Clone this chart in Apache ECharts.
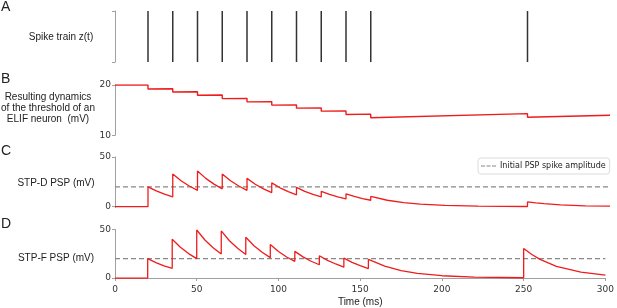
<!DOCTYPE html>
<html>
<head>
<meta charset="utf-8">
<script src="https://cdn.jsdelivr.net/npm/echarts@6/dist/echarts.min.js"></script>
<style>
  html, body { margin: 0; padding: 0; background: #fff; }
  #chart { width: 617px; height: 308px; }
</style>
</head>
<body>
<div id="chart"></div>
<script>
const spikeTimes = [20, 35, 50, 65, 80, 95, 110, 125, 140, 155, 250];

// threshold of the ELIF neuron (mV)
const threshT = [0, 20, 20, 35, 35, 50, 50, 65, 65, 80, 80, 95, 95, 110, 110, 125, 125, 140, 140, 155, 155, 250, 250, 300];
const threshV = [20, 20, 19.2, 19.25, 18.6, 18.65, 17.95, 18.0, 17.3, 17.35, 16.65, 16.7, 16.0, 16.05, 15.4, 15.45, 14.8, 14.85, 14.15, 14.2, 13.5, 14.3, 13.6, 14.0];

// PSP traces (mV)
const pspT = [0, 20, 20, 25, 30, 35, 35, 40, 45, 50, 50, 55, 60, 65, 65, 70, 75, 80, 80, 85, 90, 95, 95, 100, 105, 110,
  110, 115, 120, 125, 125, 130, 135, 140, 140, 145, 150, 155, 155, 165, 175, 185, 200, 220, 250, 250, 255, 260, 270, 285, 300];
const stpD = [0, 0, 20, 15.9, 12.6, 10, 33, 26.1, 20.8, 16.5, 36, 28.5, 22.7, 18, 33, 26.1, 20.8, 16.5, 28.5, 22.6, 18, 14.2,
  24, 19, 15.1, 12, 19.5, 15.4, 12.3, 9.8, 15.5, 12.3, 9.8, 7.8, 13, 10.3, 8.2, 6.5, 10.3, 6.5, 4.1, 2.6, 1.3, 0.5, 0.2,
  4.8, 3.8, 3.0, 1.9, 0.9, 0.5];
const stpF = [0, 0, 20, 15.9, 12.6, 10, 40, 31.7, 25.2, 20, 49.5, 39.2, 31.2, 24.7, 48.5, 38.4, 30.6, 24.2, 42, 33.3, 26.5, 21,
  34.5, 27.3, 21.7, 17.2, 27.5, 21.8, 17.3, 13.7, 23, 18.2, 14.5, 11.2, 20.5, 16.2, 12.9, 9.8, 19.2, 12.2, 7.7, 4.9, 2.4, 1.0, 0.3,
  30.5, 24.2, 19.2, 12.1, 6.1, 3.0];

const initialAmp = 20;

const chart = echarts.init(document.getElementById("chart"));

const RED = "#ee1c1c";
const AXIS = "#a0a0a0";
const LABEL_FONT = "Liberation Sans";
const TICK_FONT = "DejaVu Sans";

const pairs = (xs, ys) => xs.map((x, i) => [x, ys[i]]);

const xAxisBase = (idx, visible) => ({
  gridIndex: idx,
  type: "value",
  min: 0,
  max: 300,
  interval: 50,
  show: visible,
  axisLine: { lineStyle: { color: AXIS, width: 1 } },
  axisTick: { length: 3, lineStyle: { color: AXIS } },
  axisLabel: { color: "#333", fontSize: 9, fontFamily: TICK_FONT, margin: 5 },
  splitLine: { show: false },
});

const yAxisBase = (idx, extra) =>
  Object.assign(
    {
      gridIndex: idx,
      type: "value",
      axisLine: { show: true, lineStyle: { color: AXIS, width: 1 } },
      axisTick: { show: true, length: 3, lineStyle: { color: AXIS } },
      axisLabel: { color: "#333", fontSize: 9, fontFamily: TICK_FONT, margin: 4 },
      splitLine: { show: false },
    },
    extra
  );

const option = {
  animation: false,
  backgroundColor: "#fff",
  grid: [
    { left: 115, right: 7, top: 11, height: 51 },
    { left: 115, right: 7, top: 85, height: 50.3 },
    { left: 115, right: 7, top: 157, height: 50.7 },
    { left: 115, right: 7, top: 229.5, height: 51.5 },
  ],
  xAxis: [xAxisBase(0, false), xAxisBase(1, false), xAxisBase(2, false), Object.assign(xAxisBase(3, true), {
    name: "Time (ms)",
    nameLocation: "middle",
    nameGap: 17,
    nameTextStyle: { color: "#222", fontSize: 10, fontFamily: LABEL_FONT },
  })],
  yAxis: [
    yAxisBase(0, { min: 0, max: 1, interval: 1, axisLabel: { show: false } }),
    yAxisBase(1, { min: 10, max: 20, interval: 10 }),
    yAxisBase(2, {
      min: -1, max: 50,
      axisTick: { show: true, length: 3, lineStyle: { color: AXIS }, customValues: [0, 50] },
      axisLabel: { color: "#333", fontSize: 9, fontFamily: TICK_FONT, margin: 4, customValues: [0, 50] },
    }),
    yAxisBase(3, {
      min: -2, max: 50,
      axisTick: { show: true, length: 3, lineStyle: { color: AXIS }, customValues: [0, 50] },
      axisLabel: { color: "#333", fontSize: 9, fontFamily: TICK_FONT, margin: 4, customValues: [0, 50] },
    }),
  ],
  legend: {
    data: [{ name: "Initial PSP spike amplitude", icon: "path://M0,0H4V1H0Z M5.5,0H9.5V1H5.5Z M11,0H15V1H11Z" }],
    left: 478,
    top: 158,
    itemWidth: 15,
    itemHeight: 1.3,
    itemGap: 5,
    padding: [4, 4, 4, 3],
    backgroundColor: "#fff",
    borderColor: "#dcdcdc",
    borderWidth: 1,
    borderRadius: 3,
    itemStyle: { color: "#888" },
    textStyle: { color: "#222", fontSize: 8, fontFamily: TICK_FONT, padding: [0, 0, 0, -1] },
  },
  graphic: [
    { type: "text", left: 1, top: 0, style: { text: "A", fontSize: 14, fontFamily: LABEL_FONT, fill: "#222" } },
    { type: "text", left: 1, top: 72, style: { text: "B", fontSize: 14, fontFamily: LABEL_FONT, fill: "#222" } },
    { type: "text", left: 1, top: 144, style: { text: "C", fontSize: 14, fontFamily: LABEL_FONT, fill: "#222" } },
    { type: "text", left: 1, top: 217, style: { text: "D", fontSize: 14, fontFamily: LABEL_FONT, fill: "#222" } },
    { type: "text", x: 61, y: 37, style: { text: "Spike train z(t)", align: "center", verticalAlign: "middle", fontSize: 10, fontFamily: LABEL_FONT, fill: "#222" } },
    { type: "text", x: 48, y: 108, style: { text: "Resulting dynamics\nof the threshold of an\nELIF neuron  (mV)", align: "center", verticalAlign: "middle", lineHeight: 11, fontSize: 10, fontFamily: LABEL_FONT, fill: "#222" } },
    { type: "text", x: 56, y: 183, style: { text: "STP-D PSP (mV)", align: "center", verticalAlign: "middle", fontSize: 10, fontFamily: LABEL_FONT, fill: "#222" } },
    { type: "text", x: 56, y: 258, style: { text: "STP-F PSP (mV)", align: "center", verticalAlign: "middle", fontSize: 10, fontFamily: LABEL_FONT, fill: "#222" } },
  ],
  series: [
    {
      type: "bar",
      xAxisIndex: 0,
      yAxisIndex: 0,
      barWidth: 1.5,
      itemStyle: { color: "#333" },
      data: spikeTimes.map((t) => [t, 1]),
    },
    {
      type: "line",
      xAxisIndex: 1,
      yAxisIndex: 1,
      symbol: "none",
      lineStyle: { color: RED, width: 1.4 },
      data: pairs(threshT, threshV),
    },
    {
      name: "Initial PSP spike amplitude",
      type: "line",
      xAxisIndex: 2,
      yAxisIndex: 2,
      symbol: "none",
      color: "#888",
      lineStyle: { color: "#888", width: 1.3, type: [5, 3] },
      data: [[0, initialAmp], [300, initialAmp]],
    },
    {
      type: "line",
      xAxisIndex: 2,
      yAxisIndex: 2,
      symbol: "none",
      lineStyle: { color: RED, width: 1.3 },
      data: pairs(pspT, stpD),
    },
    {
      type: "line",
      xAxisIndex: 3,
      yAxisIndex: 3,
      symbol: "none",
      lineStyle: { color: "#888", width: 1.3, type: [5, 3] },
      data: [[0, initialAmp], [300, initialAmp]],
    },
    {
      type: "line",
      xAxisIndex: 3,
      yAxisIndex: 3,
      symbol: "none",
      lineStyle: { color: RED, width: 1.3 },
      data: pairs(pspT, stpF),
    },
  ],
};

chart.setOption(option);
</script>
</body>
</html>
